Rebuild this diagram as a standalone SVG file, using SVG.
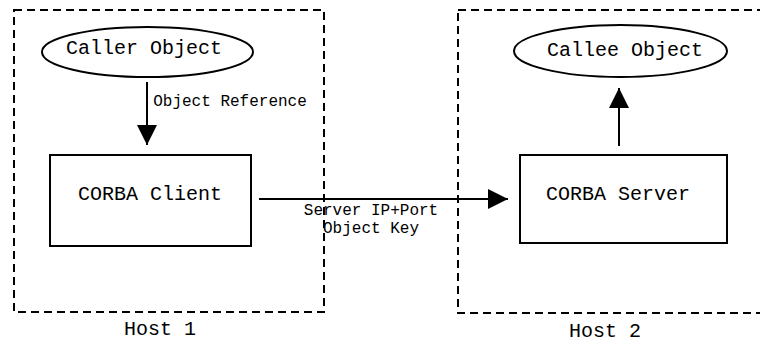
<svg xmlns="http://www.w3.org/2000/svg" width="760" height="344" viewBox="0 0 760 344">
  <style>
    .host { fill: none; stroke: #000; stroke-width: 2; stroke-dasharray: 8 5; }
    .shape { fill: #fff; stroke: #000; stroke-width: 2; }
    .edge { fill: none; stroke: #000; stroke-width: 2; }
    text { font-family: "Liberation Mono", "Courier New", monospace; fill: #000; text-anchor: middle; }
    .big { font-size: 20px; }
    .small { font-size: 16px; }
  </style>
  <defs>
    <marker id="arrow" viewBox="0 0 20 20" refX="20" refY="10" markerWidth="20" markerHeight="20" markerUnits="userSpaceOnUse" orient="auto">
      <path d="M0,0 L20,10 L0,20 Z" fill="#000"/>
    </marker>
  </defs>

  <rect width="760" height="344" fill="#fff"/>

  <!-- host boundaries -->
  <g id="host1">
    <rect class="host" x="14" y="10" width="310" height="302"/>
    <text class="big" x="160" y="335">Host 1</text>
  </g>
  <g id="host2">
    <rect class="host" x="458" y="10" width="320" height="303"/>
    <text class="big" x="605" y="337">Host 2</text>
  </g>

  <!-- objects and ORB endpoints -->
  <g id="caller">
    <ellipse class="shape" cx="147.5" cy="52" rx="105.5" ry="25"/>
    <text class="big" x="144" y="54">Caller Object</text>
  </g>
  <g id="callee">
    <ellipse class="shape" cx="620.5" cy="51" rx="106.5" ry="26"/>
    <text class="big" x="625" y="56">Callee Object</text>
  </g>
  <g id="client">
    <rect class="shape" x="50" y="155" width="201" height="91"/>
    <text class="big" x="150" y="200">CORBA Client</text>
  </g>
  <g id="server">
    <rect class="shape" x="520" y="155" width="207" height="88"/>
    <text class="big" x="618" y="200">CORBA Server</text>
  </g>

  <!-- connectors -->
  <g id="connectors">
    <line class="edge" x1="147" y1="82" x2="147" y2="145" marker-end="url(#arrow)"/>
    <text class="small" x="230" y="106">Object Reference</text>
    <line class="edge" x1="259" y1="199" x2="508" y2="199" marker-end="url(#arrow)"/>
    <text class="small" x="371" y="215">Server IP+Port</text>
    <text class="small" x="371" y="233">Object Key</text>
    <line class="edge" x1="619" y1="146" x2="619" y2="88" marker-end="url(#arrow)"/>
  </g>
</svg>
